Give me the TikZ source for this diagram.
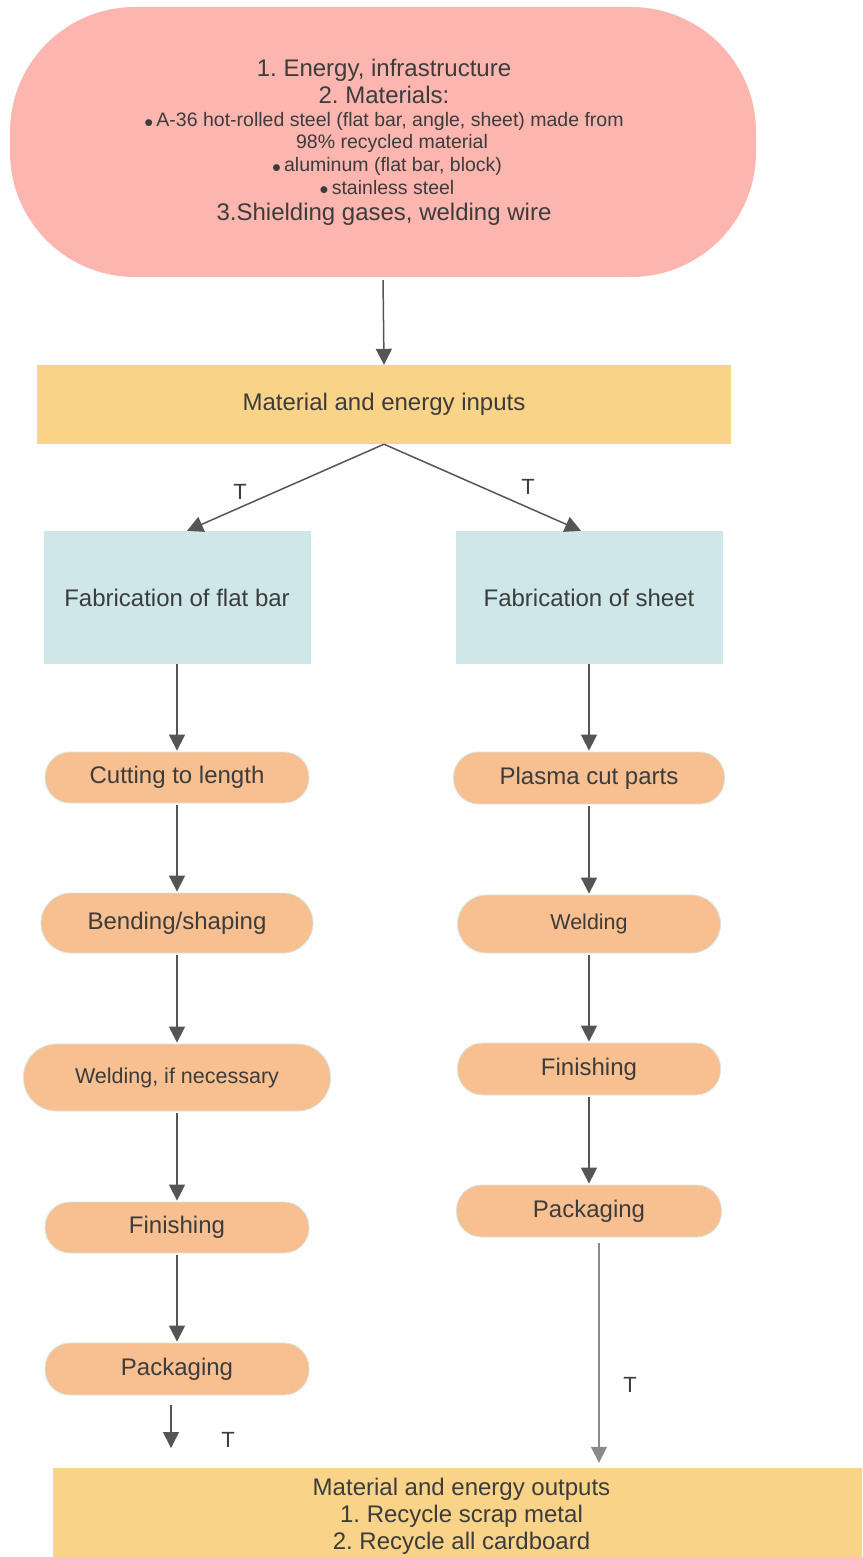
\documentclass[tikz,border=0pt]{standalone}
\usepackage{fontspec}
\setmainfont{Liberation Sans}
\frenchspacing
\usetikzlibrary{arrows.meta}
\definecolor{pinkfill}{HTML}{FDB5AF}
\definecolor{inout}{HTML}{F9D388}
\definecolor{fabblue}{HTML}{CFE7E9}
\definecolor{stepfill}{HTML}{F8C090}
\definecolor{stepline}{HTML}{D5E6E2}
\definecolor{arrowgray}{HTML}{555555}
\definecolor{lightarrow}{HTML}{8A8A8A}
\definecolor{txt}{HTML}{3C3C3C}
\newcommand{\dotitem}{\raisebox{-5pt}[0pt][0pt]{\scalebox{1.3}{•}}\,}
\newcommand{\srcbig}{\fontsize{24}{22.5}\selectfont\lineskiplimit=-100pt\relax}
\newcommand{\srcsmall}{\fontsize{19.5}{22.5}\selectfont}
\begin{document}
\begin{tikzpicture}[x=1pt,y=-1pt,
		every node/.style={text=txt},
		big/.style={font=\fontsize{24}{27}\selectfont},
		srctext/.style={anchor=base,inner sep=0pt,align=center,font=\srcbig},
		inbox/.style={fill=inout,minimum height=79pt,big,align=center,inner sep=0pt},
		fabbox/.style={fill=fabblue,minimum width=267pt,minimum height=133pt,big},
		stepbox/.style={fill=stepfill,draw=stepline,line width=0.8pt,rounded corners=25pt,big},
		arr/.style={draw=arrowgray,line width=1.5pt,-{Triangle[length=16pt,width=16pt]}},
		tlabel/.style={font=\fontsize{22}{24}\selectfont}]
			\clip (0,0) rectangle (862,1557);
			% inputs at the top (base = last line)
			\node[fill=pinkfill,rounded corners=125pt,minimum width=746pt,minimum height=270pt] (src) at (383,142) {};
			\node[srctext] (srcinfo) at (384,220) {1. Energy, infrastructure\\[4.5pt]
				2. Materials:\\
				{\srcsmall\dotitem A-36 hot-rolled steel (flat bar, angle, sheet) made from}\\
				{\srcsmall\hspace*{16pt}98\% recycled material}\\
				{\srcsmall\hspace*{6pt}\dotitem aluminum (flat bar, block)}\\
				{\srcsmall\hspace*{6pt}\dotitem stainless steel}\\[3.5pt]
				3.Shielding gases, welding wire};
			\node[inbox,minimum width=694pt] (inputs) at (384,404.5) {Material and energy inputs};
			\node[fabbox] (flatbar) at (177,597.5) {Fabrication of flat bar};
			\node[fabbox] (sheet) at (589,597.5) {Fabrication of sheet};
			% flat bar steps
			\node[stepbox,minimum width=264pt,minimum height=51pt] (cut) at (177,777.5) {Cutting to length};
			\node[stepbox,minimum width=272pt,minimum height=60pt,rounded corners=30pt] (bend) at (177,923) {Bending/shaping};
			\node[stepbox,minimum width=307pt,minimum height=67pt,rounded corners=33pt,font=\fontsize{21.5}{24}\selectfont] (weldif) at (177,1077.5) {Welding, if necessary};
			\node[stepbox,minimum width=264pt,minimum height=51pt] (finL) at (177,1227.5) {Finishing};
			\node[stepbox,minimum width=264pt,minimum height=52pt] (packL) at (177,1369) {Packaging};
			% sheet steps
			\node[stepbox,minimum width=271pt,minimum height=52pt] (plasma) at (589,778) {Plasma cut parts};
			\node[stepbox,minimum width=263pt,minimum height=58pt,rounded corners=29pt,font=\fontsize{21.5}{24}\selectfont] (weld) at (589,924) {Welding};
			\node[stepbox,minimum width=263pt,minimum height=52pt] (finR) at (589,1069) {Finishing};
			\node[stepbox,minimum width=265pt,minimum height=52pt] (packR) at (589,1211) {Packaging};
			\node[inbox,minimum width=817pt,minimum height=97pt] (outputs) at (461.5,1516.5) {Material and energy outputs\\1. Recycle scrap metal\\2. Recycle all cardboard};
			% connectors
			\draw[arr,shorten <=3pt] (src.south) -- (inputs.north);
			\draw[arr] (inputs.south) -- ([xshift=10pt]flatbar.north);
			\draw[arr] (inputs.south) -- ([xshift=-8pt]sheet.north);
			\draw[arr,shorten >=1pt] (flatbar.south) -- (cut.north);
			\draw[arr,shorten <=2pt,shorten >=1pt] (cut.south) -- (bend.north);
			\draw[arr,shorten <=2pt,shorten >=1pt] (bend.south) -- (weldif.north);
			\draw[arr,shorten <=2pt,shorten >=1pt] (weldif.south) -- (finL.north);
			\draw[arr,shorten <=2pt,shorten >=1pt] (finL.south) -- (packL.north);
			\draw[arr,shorten >=1pt] (sheet.south) -- (plasma.north);
			\draw[arr,shorten <=2pt,shorten >=1pt] (plasma.south) -- (weld.north);
			\draw[arr,shorten <=2pt,shorten >=1pt] (weld.south) -- (finR.north);
			\draw[arr,shorten <=2pt,shorten >=1pt] (finR.south) -- (packR.north);
			\coordinate (packLtip) at (171,1448);
			\draw[arr] ([xshift=-6pt,yshift=-10pt]packL.south) -- (packLtip);
			\coordinate (packRout) at ([xshift=10pt]packR.south);
			\draw[arr,draw=lightarrow,shorten <=6pt,shorten >=5pt] (packRout) -- (packRout |- outputs.north);
			\node[tlabel] (t1) at (240,491.5) {T};
			\node[tlabel] (t2) at (528,487) {T};
			\node[tlabel] (t3) at (228,1439.5) {T};
			\node[tlabel] (t4) at (630,1384.5) {T};
		\end{tikzpicture}
\end{document}
